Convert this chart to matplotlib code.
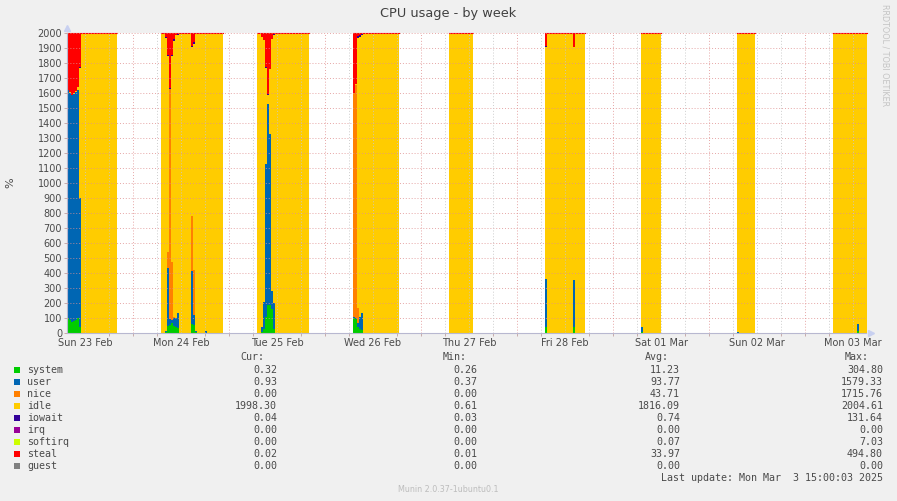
import matplotlib
matplotlib.use("Agg")
import matplotlib.pyplot as plt
from matplotlib.patches import Rectangle
import numpy as np

# Time axis in days since Sun 23 Feb 00:00, one sample every 30 minutes.
STEP = 1 / 48
BLOCK_STARTS = [0.3125, 1.2917, 2.2917, 3.2917, 4.2917, 5.2917, 6.2917, 7.2917, 8.2917]
BLOCK_LENGTHS = [25, 31, 26, 23, 12, 20, 10, 9, 17]
X_RANGE = (0.3125, 8.6354)

DAY_LABELS = ["Sun 23 Feb", "Mon 24 Feb", "Tue 25 Feb", "Wed 26 Feb", "Thu 27 Feb",
              "Fri 28 Feb", "Sat 01 Mar", "Sun 02 Mar", "Mon 03 Mar"]
DAY_LABEL_POS = [0.5, 1.5, 2.5, 3.5, 4.5, 5.5, 6.5, 7.5, 8.5]

# per-series samples, blocks concatenated in time order
SYSTEM = (
    [98, 85, 72, 78, 90, 100, 40] + [0.3] * 18
    + [0.3, 0.3, 5, 45, 55, 65, 50, 40, 35] + [0.3] * 6 + [60, 55, 5] + [0.3] * 13
    + [0.3, 0.3, 10, 30, 110, 185, 185, 160, 30] + [0.3] * 17
    + [100, 95, 40, 25, 20] + [0.3] * 18
    + [0.3] * 12
    + [40] + [0.3] * 13 + [40] + [0.3] * 5
    + [7] + [0.3] * 9
    + [0.3] * 9
    + [0.3] * 12 + [15] + [0.3] * 4
)
USER = (
    [1522, 1515, 1513, 1517, 1520, 1520, 860] + [0.9] * 18
    + [0.9, 0.9, 10, 386, 40, 25, 50, 60, 98] + [0.9] * 6 + [353, 65, 10] + [0.9] * 4 + [10] + [0.9] * 8
    + [0.9, 0.9, 30, 180, 1020, 1345, 1145, 120, 170] + [0.9] * 17
    + [5, 5, 30, 85, 113] + [0.9] * 18
    + [0.9] * 12
    + [320] + [0.9] * 13 + [313] + [0.9] * 5
    + [35] + [0.9] * 9
    + [8] + [0.9] * 8
    + [0.9] * 12 + [45] + [0.9] * 4
)
NICE = (
    [0] * 25
    + [0, 0, 0, 110, 1535, 385, 10, 0, 0] + [0] * 6 + [370, 300, 0] + [0] * 13
    + [0] * 26
    + [1495, 1555, 95, 0, 0] + [0] * 18
    + [0] * 68
)
IDLE = (
    [0, 5, 3, 5, 5, 20, 870] + [1998.3] * 18
    + [1998.3, 1998.3, 1955, 1309, 0, 1375, 1840, 1885, 1857] + [1998.3] * 6
    + [1127, 1505, 1980] + [1998.3] * 4 + [1989] + [1998.3] * 8
    + [1998.3, 1994, 1935, 1745, 640, 60, 430, 1680, 1790] + [1998.3] * 17
    + [0, 5, 1805, 1865, 1857] + [1998.3] * 18
    + [1998.3] * 12
    + [1550] + [1998.3] * 13 + [1552] + [1998.3] * 5
    + [1958] + [1998.3] * 9
    + [1992] + [1998.3] * 8
    + [1998.3] * 12 + [1940] + [1998.3] * 4
)
IOWAIT = (
    [0.04] * 25
    + [0.04] * 6 + [10] + [0.04] * 9 + [15] + [0.04] * 14
    + [0.04] * 26
    + [0.04, 0.04, 10, 10] + [0.04] * 19
    + [0.04] * 68
)
IRQ = [0.0] * 173
SOFTIRQ = [0.0] * 173
STEAL = (
    [380, 395, 412, 400, 385, 360, 230] + [0.02] * 18
    + [0.02, 0.02, 30, 150, 370, 150, 40, 15, 10] + [0.02] * 6 + [90, 60, 5] + [0.02] * 13
    + [0.02, 5, 25, 45, 230, 410, 240, 40, 10] + [0.02] * 17
    + [400, 340, 20, 15, 10] + [0.02] * 18
    + [0.02] * 12
    + [90] + [0.02] * 13 + [95] + [0.02] * 5
    + [0.02] * 36
)
GUEST = [0.0] * 173

NAMES = ["system", "user", "nice", "idle", "iowait", "irq", "softirq", "steal", "guest"]
COLORS = ["#00CC00", "#0066B3", "#FF8000", "#FFCC00", "#330099",
          "#990099", "#CCFF00", "#FF0000", "#808080"]
CUR = ["0.32", "0.93", "0.00", "1998.30", "0.04", "0.00", "0.00", "0.02", "0.00"]
MIN = ["0.26", "0.37", "0.00", "0.61", "0.03", "0.00", "0.00", "0.01", "0.00"]
AVG = ["11.23", "93.77", "43.71", "1816.09", "0.74", "0.00", "0.07", "33.97", "0.00"]
MAX = ["304.80", "1579.33", "1715.76", "2004.61", "131.64", "0.00", "7.03", "494.80", "0.00"]

W, H = 897, 501
BG = "#F0F0F0"
TXT = "#4a4a4a"
MONO = "DejaVu Sans Mono"


def fx(px):
    return px / W


def fy(py):
    return 1 - py / H


fig = plt.figure(figsize=(W / 100, H / 100), dpi=100, facecolor=BG)
ax = fig.add_axes([fx(67), fy(333), (866 - 67) / W, 300 / H])
ax.set_facecolor("white")

# rrdtool draws each sample as a flat step over its interval
series = [SYSTEM, USER, NICE, IDLE, IOWAIT, IRQ, SOFTIRQ, STEAL, GUEST]
pos = 0
for start, n in zip(BLOCK_STARTS, BLOCK_LENGTHS):
    t = start + np.arange(n + 1) * STEP
    base = np.zeros(n + 1)
    for s, color in zip(series, COLORS):
        vals = np.asarray(s[pos:pos + n], dtype=float)
        vals = np.append(vals, vals[-1])
        ax.fill_between(t, base, base + vals, step="post", color=color, lw=0, zorder=1)
        base = base + vals
    ax.step(t, base, where="post", color="#FF0000", lw=0.8, zorder=2, clip_on=False)
    pos += n

ax.set_xlim(*X_RANGE)
ax.set_ylim(0, 2000)

# grid drawn over the data, like rrdtool
dots = (0, (1, 2))
for y in range(100, 2001, 100):
    ax.axhline(y, color="#E09090", lw=0.7, ls=dots, alpha=0.8, zorder=3)
for k in range(1, 35):
    d = k * 0.25
    if d < X_RANGE[0] or d > X_RANGE[1]:
        continue
    if k % 4 == 0:
        ax.axvline(d, color="#E09090", lw=0.7, ls=dots, alpha=0.8, zorder=3)
    else:
        ax.axvline(d, color="#C8C8C8", lw=0.7, ls=dots, alpha=0.9, zorder=3)

ax.set_yticks(range(0, 2001, 100))
ax.tick_params(axis="y", length=2, width=0.6, color="#C0A0A0", pad=1.5,
               labelsize=7, labelcolor=TXT)
ax.set_xticks(DAY_LABEL_POS, DAY_LABELS)
ax.tick_params(axis="x", length=0, pad=3.5, labelsize=7, labelcolor=TXT)
ax.set_xticks([k * 0.25 for k in range(2, 35) if X_RANGE[0] <= k * 0.25 <= X_RANGE[1]],
              minor=True)
ax.tick_params(axis="x", which="minor", length=2, width=0.6, color="#C0A0A0")

for side in ("top", "right"):
    ax.spines[side].set_visible(False)
for side in ("left", "bottom"):
    ax.spines[side].set_color("#B8B8D0")
    ax.spines[side].set_linewidth(0.8)

# axis arrows
ax.plot([0], [1.017], marker="^", ms=4, color="#C8D0F0", transform=ax.transAxes, clip_on=False)
ax.plot([1.006], [0], marker=">", ms=4, color="#C8D0F0", transform=ax.transAxes, clip_on=False)

fig.text(fx(448), fy(13), "CPU usage - by week", ha="center", va="center",
         fontsize=9.3, color="#404040")
fig.text(fx(10), fy(183), "%", ha="center", va="center", rotation=90,
         fontsize=8, color=TXT)
fig.text(fx(885), fy(55), "RRDTOOL / TOBI OETIKER", ha="center", va="center",
         rotation=-90, fontsize=5.8, color="#C4C4C4")

# legend block
fig.text(fx(240), fy(357), "Cur:", fontsize=7.2, family=MONO, color=TXT, va="center")
fig.text(fx(443), fy(357), "Min:", fontsize=7.2, family=MONO, color=TXT, va="center")
fig.text(fx(645), fy(357), "Avg:", fontsize=7.2, family=MONO, color=TXT, va="center")
fig.text(fx(845), fy(357), "Max:", fontsize=7.2, family=MONO, color=TXT, va="center")
for i, name in enumerate(NAMES):
    yc = 370 + 12 * i
    fig.patches.append(Rectangle((fx(14), fy(yc + 3)), 6 / W, 6 / H,
                                 facecolor=COLORS[i], edgecolor="none",
                                 transform=fig.transFigure, figure=fig))
    fig.text(fx(27), fy(yc), name, fontsize=7.2, family=MONO, color=TXT, va="center")
    fig.text(fx(277), fy(yc), CUR[i], fontsize=7.2, family=MONO, color=TXT,
             va="center", ha="right")
    fig.text(fx(477), fy(yc), MIN[i], fontsize=7.2, family=MONO, color=TXT,
             va="center", ha="right")
    fig.text(fx(680), fy(yc), AVG[i], fontsize=7.2, family=MONO, color=TXT,
             va="center", ha="right")
    fig.text(fx(883), fy(yc), MAX[i], fontsize=7.2, family=MONO, color=TXT,
             va="center", ha="right")
fig.text(fx(883), fy(478), "Last update: Mon Mar  3 15:00:03 2025", fontsize=7.2,
         family=MONO, color=TXT, va="center", ha="right")
fig.text(fx(448), fy(490), "Munin 2.0.37-1ubuntu0.1", ha="center", va="center",
         fontsize=5.8, color="#BDBDBD")

fig.savefig("out.png", dpi=100, facecolor=BG)
